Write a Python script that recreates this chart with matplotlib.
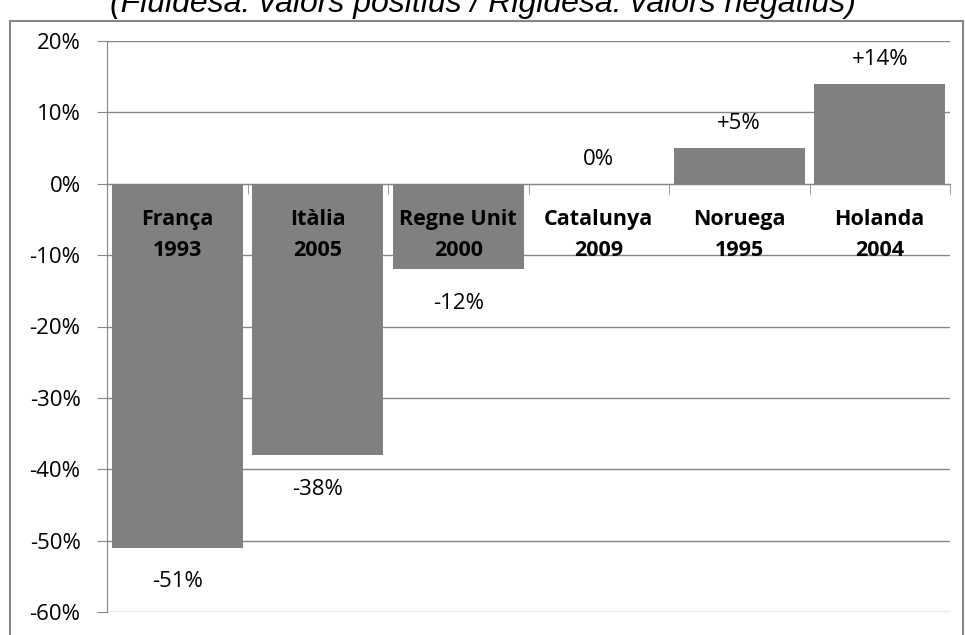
import matplotlib.pyplot as plt
from matplotlib.patches import Rectangle
from matplotlib.ticker import FixedLocator, FuncFormatter
import matplotlib.transforms as mtransforms

# data
countries = ["França\n1993", "Itàlia\n2005", "Regne Unit\n2000",
             "Catalunya\n2009", "Noruega\n1995", "Holanda\n2004"]
values = [-51, -38, -12, 0, 5, 14]
value_labels = ["-51%", "-38%", "-12%", "0%", "+5%", "+14%"]
title = "(Fluidesa: valors positius / Rigidesa: valors negatius)"

plt.rcParams['font.family'] = ['Open Sans', 'DejaVu Sans']

fig = plt.figure(figsize=(9.65, 6.35), dpi=100)
ax = fig.add_axes([107 / 965, 1 - 612 / 635, 843 / 965, 571 / 635])

grid_col = '#868686'
bar_col = '#808080'

x = list(range(len(values)))
ax.bar(x, values, width=0.93, color=bar_col, zorder=3)

ax.set_xlim(-0.5, len(values) - 0.5)
ax.set_ylim(-60, 20)
ax.set_yticks(range(-60, 21, 10))
ax.yaxis.set_major_formatter(FuncFormatter(lambda v, p: f"{int(v)}%"))
ax.grid(axis='y', color=grid_col, linewidth=1, zorder=0)
ax.tick_params(axis='y', length=7, color=grid_col, labelsize=16, pad=12)

# category axis sits on zero
for s in ['top', 'right']:
    ax.spines[s].set_visible(False)
ax.spines['left'].set_color(grid_col)
ax.spines['bottom'].set_position(('data', 0))
ax.spines['bottom'].set_color(grid_col)
ax.set_xticks(x)
ax.set_xticklabels([])
ax.tick_params(axis='x', which='major', length=0)
ax.xaxis.set_minor_locator(FixedLocator([i + 0.5 for i in range(-1, len(values))]))
ax.tick_params(axis='x', which='minor', direction='out', length=7, color=grid_col)

# category labels drawn on top of the bars, just below zero
off = mtransforms.offset_copy(ax.transData, fig=fig, x=0, y=-18, units='points')
for xi, lab in zip(x, countries):
    ax.text(xi, 0, lab, transform=off, ha='center', va='top', fontsize=15.5,
            fontweight='bold', linespacing=1.65, zorder=5)

# value labels
for xi, v, lab in zip(x, values, value_labels):
    if v < 0:
        ax.annotate(lab, (xi, v), xytext=(0, -17), textcoords='offset points',
                    ha='center', va='top', fontsize=16)
    else:
        ax.annotate(lab, (xi, v), xytext=(0, 10), textcoords='offset points',
                    ha='center', va='bottom', fontsize=16)

# outer chart border
fig.patches.append(Rectangle((10 / 965, -0.01), 953 / 965, 1 - 21 / 635 + 0.01,
                             transform=fig.transFigure, fill=False,
                             edgecolor=grid_col, linewidth=1.5))

fig.text(0.5, 1 - 12 / 635, title, ha='center', va='baseline',
         fontsize=23, style='italic', family=['Liberation Sans', 'DejaVu Sans'])

fig.savefig('out.png', dpi=100)
